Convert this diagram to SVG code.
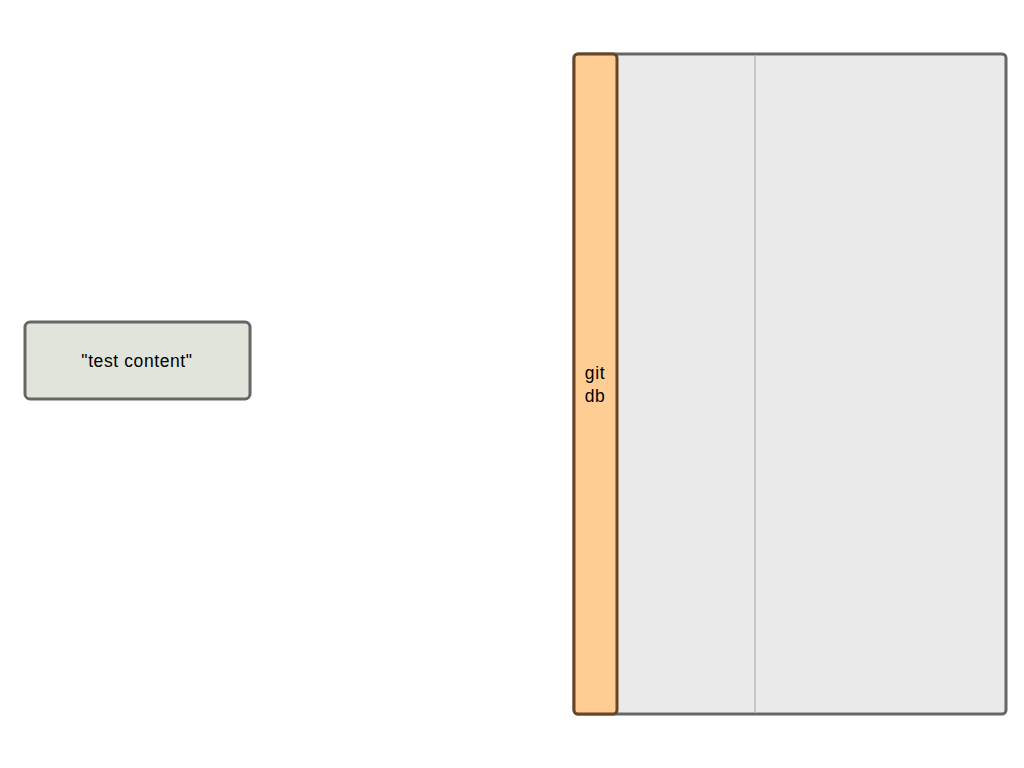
<svg xmlns="http://www.w3.org/2000/svg" width="1024" height="768" viewBox="0 0 1024 768">
<style>
text{font-family:"Liberation Sans",Arial,sans-serif;font-size:17.5px;letter-spacing:0.6px;fill:#000;text-anchor:middle}
</style>
<rect width="1024" height="768" fill="#fff"/>
<g id="container">
<rect x="574" y="54" width="432" height="660" rx="4" fill="#eaeaea" stroke="#666" stroke-width="3"/>
<line x1="755" y1="55" x2="755" y2="713" stroke="#bbb" stroke-width="1.5"/>
</g>
<g id="gitdb">
<rect x="574" y="54" width="43" height="660" rx="4" fill="#fecd94" stroke="#6b4424" stroke-width="3"/>
<text x="595" y="379">git</text>
<text x="595" y="402">db</text>
</g>
<g id="content">
<rect x="25" y="322" width="225" height="77" rx="5" fill="#e1e4da" stroke="#666" stroke-width="3"/>
<text x="137" y="367">"test content"</text>
</g>
<g id="connectors"/>
</svg>
